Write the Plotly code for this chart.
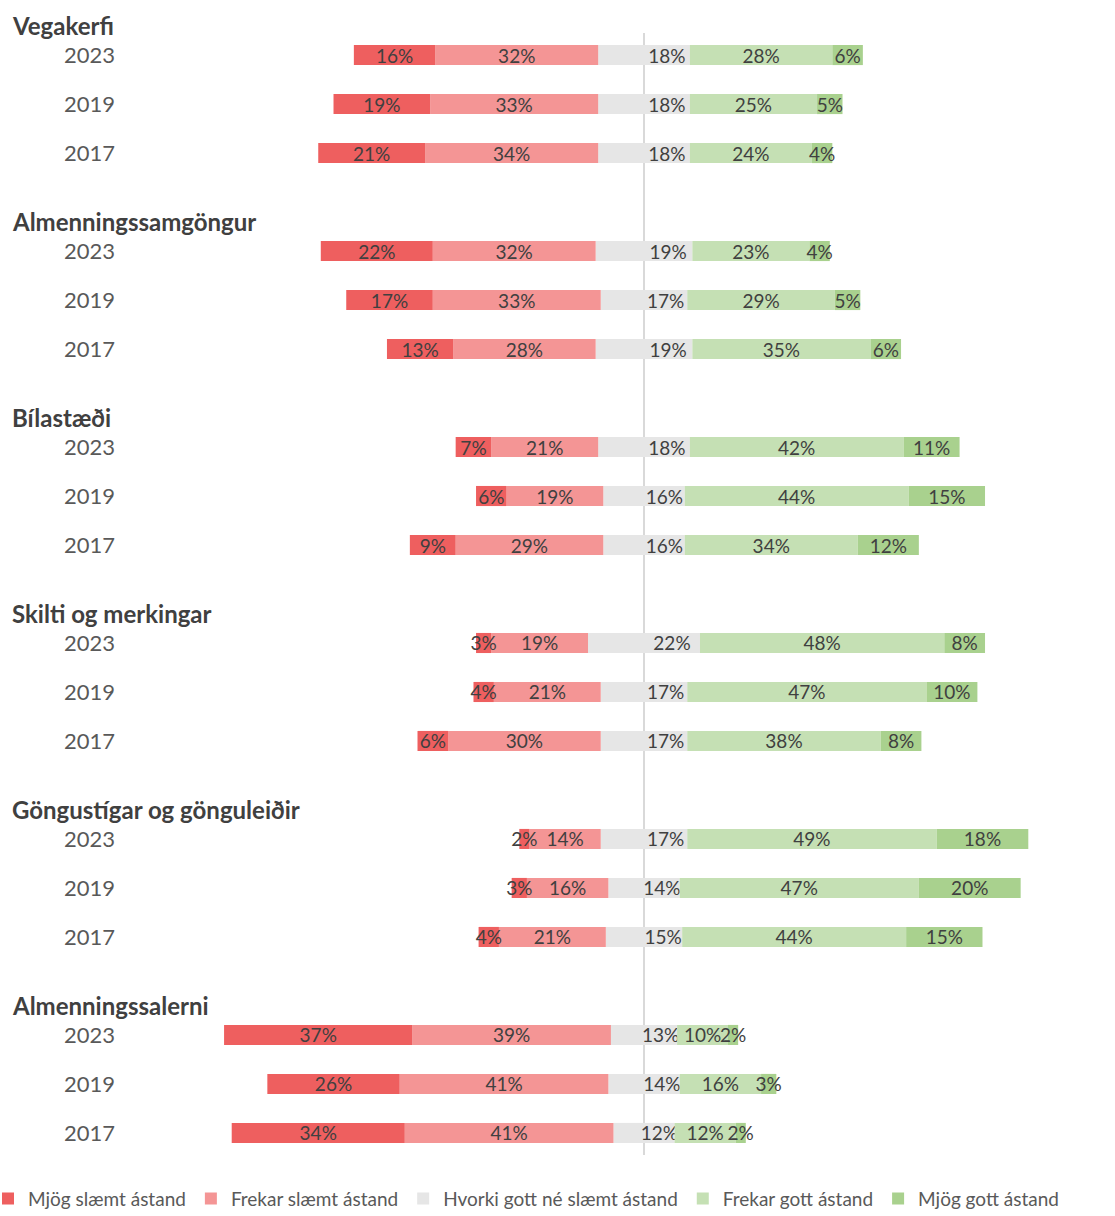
import plotly.graph_objects as go

groups = ["Vegakerfi", "Almenningssamgöngur", "Bílastæði", "Skilti og merkingar",
          "Göngustígar og gönguleiðir", "Almenningssalerni"]
years = ["2023", "2019", "2017"]

series_names = ["Mjög slæmt ástand", "Frekar slæmt ástand", "Hvorki gott né slæmt ástand",
                "Frekar gott ástand", "Mjög gott ástand"]

# values per group, per year (2023, 2019, 2017)
mjog_slaemt = [16, 19, 21, 22, 17, 13, 7, 6, 9, 3, 4, 6, 2, 3, 4, 37, 26, 34]
frekar_slaemt = [32, 33, 34, 32, 33, 28, 21, 19, 29, 19, 21, 30, 14, 16, 21, 39, 41, 41]
hvorki = [18, 18, 18, 19, 17, 19, 18, 16, 16, 22, 17, 17, 17, 14, 15, 13, 14, 12]
frekar_gott = [28, 25, 24, 23, 29, 35, 42, 44, 34, 48, 47, 38, 49, 47, 44, 10, 16, 12]
mjog_gott = [6, 5, 4, 4, 5, 6, 11, 15, 12, 8, 10, 8, 18, 20, 15, 2, 3, 2]

colors = ["#EE5F5F", "#F49595", "#E6E6E6", "#C5E0B4", "#A9D18E"]

# y positions: 4 rows per group (header + 3 years)
ypos = []
ylabels = []
for g in range(len(groups)):
    for k, yr in enumerate(years):
        ypos.append(g * 4 + 1 + k)
        ylabels.append(yr)

lab = lambda vals: [f"{v}%" for v in vals]
txtfont = dict(family="Lato, sans-serif", size=19, color="#404040")

fig = go.Figure()
common = dict(orientation="h", y=ypos, width=0.41, textposition="inside",
              insidetextanchor="middle", textangle=0, constraintext="none",
              cliponaxis=False, insidetextfont=txtfont, marker_line_width=0,
              hoverinfo="skip")

# negative side (closest to zero first)
fig.add_trace(go.Bar(x=[-v / 2 for v in hvorki], marker_color=colors[2], name=series_names[2],
                     showlegend=False, **common))
fig.add_trace(go.Bar(x=[-v for v in frekar_slaemt], text=lab(frekar_slaemt), marker_color=colors[1],
                     name=series_names[1], legendrank=2, **common))
fig.add_trace(go.Bar(x=[-v for v in mjog_slaemt], text=lab(mjog_slaemt), marker_color=colors[0],
                     name=series_names[0], legendrank=1, **common))
# positive side
fig.add_trace(go.Bar(x=[v / 2 for v in hvorki], text=lab(hvorki), marker_color=colors[2],
                     name=series_names[2], legendrank=3, **common))
fig.add_trace(go.Bar(x=frekar_gott, text=lab(frekar_gott), marker_color=colors[3],
                     name=series_names[3], legendrank=4, **common))
fig.add_trace(go.Bar(x=mjog_gott, text=lab(mjog_gott), marker_color=colors[4],
                     name=series_names[4], legendrank=5, **common))

W, H = 1115, 1216
ml, mr, mt, mb = 120, 5, 33, 61
pw = W - ml - mr
ph = H - mt - mb
px_per = 5.09
x0_px = 644 - ml
xr = [-x0_px / px_per, (pw - x0_px) / px_per]
yr_ = [23.45, 0.55]

annotations = []
for g, name in enumerate(groups):
    yv = g * 4 + 0.39
    ypaper = (yr_[0] - yv) / (yr_[0] - yr_[1])
    annotations.append(dict(text=f"<b>{name}</b>", xref="paper", yref="paper",
                            x=(10 - ml) / pw, y=ypaper, xanchor="left", yanchor="middle",
                            showarrow=False,
                            font=dict(family="Lato, sans-serif", size=24, color="#404040")))

fig.update_layout(
    width=W, height=H,
    margin=dict(l=ml, r=mr, t=mt, b=mb, autoexpand=False),
    barmode="relative",
    plot_bgcolor="white", paper_bgcolor="white",
    font=dict(family="Lato, sans-serif", color="#595959"),
    xaxis=dict(range=xr, showgrid=False, showticklabels=False, zeroline=True,
               zerolinecolor="#D9D9D9", zerolinewidth=2, fixedrange=True),
    yaxis=dict(range=yr_, tickvals=ypos, ticktext=ylabels, showgrid=False,
               zeroline=False, tickfont=dict(family="Lato, sans-serif", size=22, color="#595959"),
               ticklabelstandoff=4),
    legend=dict(orientation="h", x=(-12 - ml) / pw, xanchor="left", y=-0.022, yanchor="top",
                font=dict(family="Lato, sans-serif", size=19, color="#595959"),
                itemwidth=30, traceorder="normal", tracegroupgap=0),
    annotations=annotations,
    showlegend=True,
)

fig.write_html("out.html", config={"displayModeBar": False},
               post_script="document.body.style.margin='0';")
